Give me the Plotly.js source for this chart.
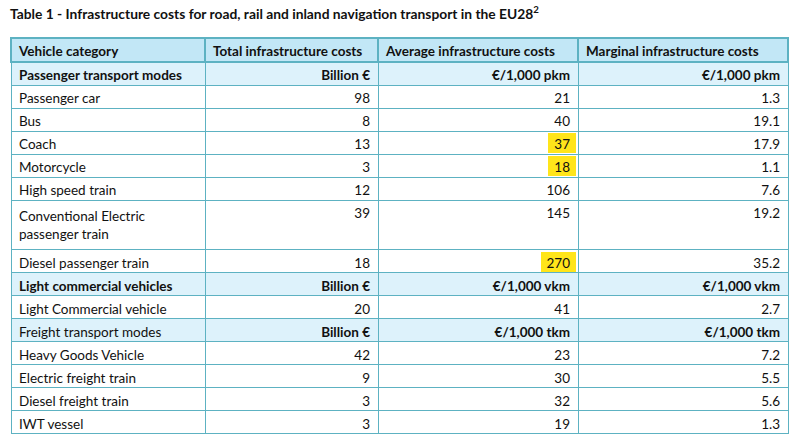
<!DOCTYPE html>
<html>
<head>
<meta charset="utf-8">
<script src="https://cdn.plot.ly/plotly-3.0.1.min.js"></script>
<style>
  body { margin: 0; background: #fff; }
  #table { width: 800px; height: 437px; }
</style>
</head>
<body>
<div id="table"></div>
<script>
const headers = ["Vehicle category", "Total infrastructure costs", "Average infrastructure costs", "Marginal infrastructure costs"];

const sectionLabels = ["Passenger transport modes", "Light commercial vehicles", "Freight transport modes"];
const sectionBold = [true, true, false];
const totalUnit = "Billion €";
const sectionUnits = ["€/1,000 pkm", "€/1,000 vkm", "€/1,000 tkm"];

const passengerModes = ["Passenger car", "Bus", "Coach", "Motorcycle", "High speed train", "Conventional Electric<br>passenger train", "Diesel passenger train"];
const passengerTotal = [98, 8, 13, 3, 12, 39, 18];
const passengerAverage = [21, 40, 37, 18, 106, 145, 270];
const passengerMarginal = [1.3, 19.1, 17.9, 1.1, 7.6, 19.2, 35.2];

const lcvModes = ["Light Commercial vehicle"];
const lcvTotal = [20];
const lcvAverage = [41];
const lcvMarginal = [2.7];

const freightModes = ["Heavy Goods Vehicle", "Electric freight train", "Diesel freight train", "IWT vessel"];
const freightTotal = [42, 9, 3, 3];
const freightAverage = [23, 30, 32, 19];
const freightMarginal = [7.2, 5.5, 5.6, 1.3];

// average cost cells marked with yellow in the source
const highlighted = ["Coach", "Motorcycle", "Diesel passenger train"];

const groups = [
    { modes: passengerModes, total: passengerTotal, average: passengerAverage, marginal: passengerMarginal },
    { modes: lcvModes, total: lcvTotal, average: lcvAverage, marginal: lcvMarginal },
    { modes: freightModes, total: freightTotal, average: freightAverage, marginal: freightMarginal },
];

const HEADER_FILL = "#c2e7f6";
const SECTION_FILL = "#ddf2fb";
const BORDER = "#5db2c2";

const colCat = [], colTotal = [], colAvg = [], colMarg = [];
const catWeight = [], unitWeight = [];
const rowFill = [], avgFill = [];
const rowLines = [];   // text lines per row, used to place the highlights

groups.forEach((g, gi) => {
    colCat.push(sectionLabels[gi]);
    colTotal.push(totalUnit);
    colAvg.push(sectionUnits[gi]);
    colMarg.push(sectionUnits[gi]);
    catWeight.push(sectionBold[gi] ? "bold" : "normal");
    unitWeight.push("bold");
    rowFill.push(SECTION_FILL);
    avgFill.push(SECTION_FILL);
    rowLines.push(1);

    g.modes.forEach((m, i) => {
        colCat.push(m);
        colTotal.push(String(g.total[i]));
        colAvg.push(String(g.average[i]));
        colMarg.push(g.marginal[i].toFixed(1));
        catWeight.push("normal");
        unitWeight.push("normal");
        rowFill.push("#ffffff");
        avgFill.push(highlighted.includes(m) ? "rgba(0,0,0,0)" : "#ffffff");
        rowLines.push(m.includes("<br>") ? 2 : 1);
    });
});

const TABLE_LEFT = 11, TABLE_RIGHT = 788, TABLE_TOP = 38;
const HEADER_H = 24, ROW_H = 23, DOUBLE_H = 50;
const colWidths = [194, 173, 200, 210];
const FONT = "Lato, sans-serif";

const trace = {
    type: "table",
    domain: { x: [TABLE_LEFT / 800, TABLE_RIGHT / 800], y: [0, 1 - TABLE_TOP / 437] },
    columnwidth: colWidths,
    header: {
        values: headers,
        align: "left",
        height: HEADER_H,
        fill: { color: HEADER_FILL },
        line: { color: BORDER, width: 1.5 },
        font: { family: FONT, size: 13.5, color: "#111", weight: "bold" },
    },
    cells: {
        values: [colCat, colTotal, colAvg, colMarg],
        align: ["left", "right", "right", "right"],
        height: ROW_H,
        fill: { color: [rowFill, rowFill, avgFill, rowFill] },
        line: { color: BORDER, width: 1 },
        font: { family: FONT, size: 13.5, color: "#111", weight: [catWeight, unitWeight, unitWeight, unitWeight] },
    },
};

// yellow marker behind the highlighted average costs
const shapes = [];
let y = TABLE_TOP + HEADER_H;
const avgRight = TABLE_LEFT + colWidths[0] + colWidths[1] + colWidths[2];
colCat.forEach((c, r) => {
    const h = rowLines[r] > 1 ? DOUBLE_H : ROW_H;
    if (highlighted.includes(c)) {
        const digits = colAvg[r].length;
        shapes.push({
            type: "rect", xref: "paper", yref: "paper", layer: "below",
            x0: (avgRight - 8 - digits * 7 - 8) / 800, x1: (avgRight - 2) / 800,
            y0: 1 - (y + 2) / 437, y1: 1 - (y + h - 1) / 437,
            fillcolor: "#ffe51a", line: { width: 0 },
        });
    }
    y += h;
});

const layout = {
    width: 800,
    height: 437,
    margin: { l: 0, r: 0, t: 0, b: 0 },
    paper_bgcolor: "#ffffff",
    title: {
        text: "Table 1 - Infrastructure costs for road, rail and inland navigation transport in the EU28<sup>2</sup>",
        x: 10 / 800, xanchor: "left", xref: "paper",
        y: 1 - 14 / 437, yanchor: "middle",
        font: { family: FONT, size: 13.8, color: "#111", weight: "bold" },
    },
    shapes: shapes,
};

Plotly.newPlot("table", [trace], layout, { displayModeBar: false, staticPlot: true });
</script>
</body>
</html>
